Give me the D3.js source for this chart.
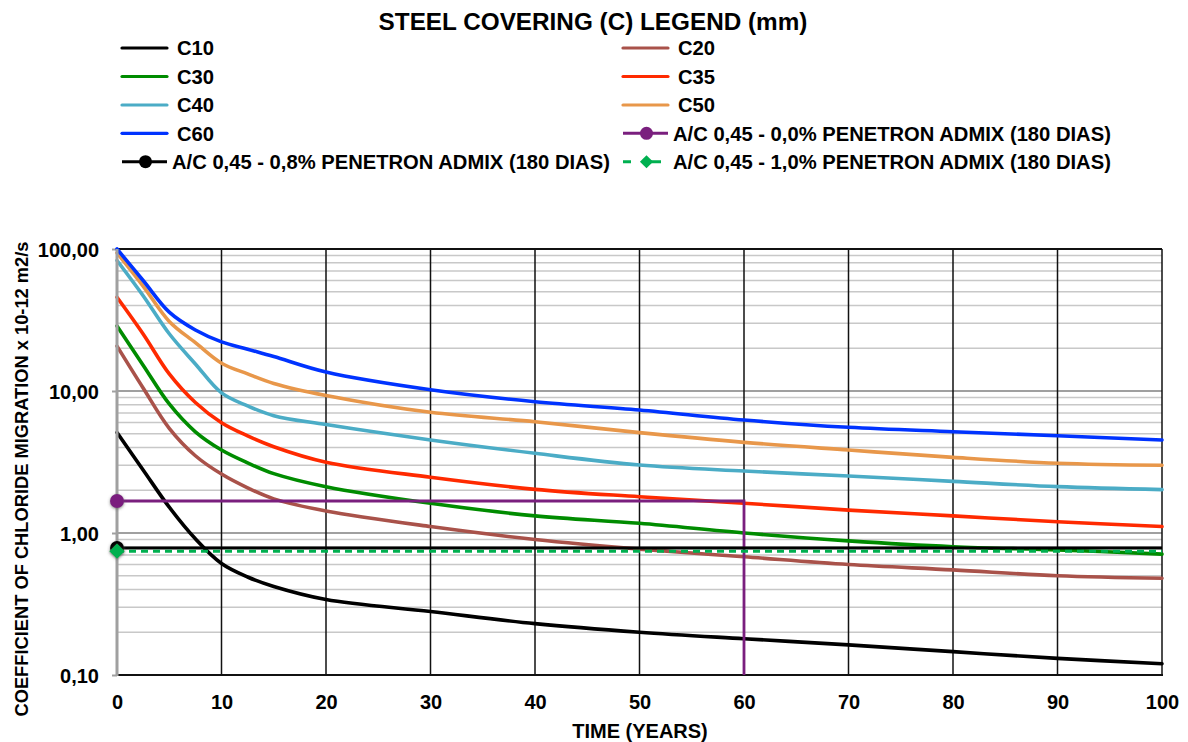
<!DOCTYPE html>
<html><head><meta charset="utf-8">
<script src="https://cdn.jsdelivr.net/npm/d3@7"></script>
<style>
body{margin:0;background:#fff}
svg{display:block}
text{font-family:"Liberation Sans",Arial,Helvetica,sans-serif;font-weight:bold;fill:#000}
</style>
</head><body>
<svg id="chart" width="1188" height="742"></svg>
<script>
// ---------- DATA ----------
const years = [0, 2.5, 5, 7.5, 10, 12.5, 15, 20, 30, 40, 50, 60, 70, 80, 90, 100];
const c10 = [5.1, 2.78, 1.52, 0.91, 0.61, 0.49, 0.42, 0.34, 0.28, 0.23, 0.20, 0.18, 0.163, 0.146, 0.131, 0.12];
const c20 = [20.7, 10.5, 5.46, 3.5, 2.6, 2.08, 1.74, 1.43, 1.11, 0.90, 0.77, 0.68, 0.60, 0.55, 0.50, 0.48];
const c30 = [28.7, 15.2, 8.1, 5.16, 3.84, 3.12, 2.62, 2.12, 1.62, 1.32, 1.17, 1.0, 0.88, 0.80, 0.76, 0.71];
const c35 = [45.7, 25.2, 13.2, 8.3, 5.98, 4.83, 4.05, 3.15, 2.47, 2.03, 1.80, 1.62, 1.45, 1.32, 1.20, 1.11];
const c40 = [83, 46.9, 25.3, 15.5, 9.7, 7.85, 6.7, 5.8, 4.52, 3.64, 3.01, 2.73, 2.52, 2.31, 2.12, 2.02];
const c50 = [94, 54.8, 30.9, 21.9, 15.7, 13.2, 11.3, 9.3, 7.08, 6.08, 5.09, 4.35, 3.84, 3.41, 3.10, 3.0];
const c60 = [100, 60, 35.9, 26.9, 22.2, 19.7, 17.5, 13.6, 10.2, 8.4, 7.35, 6.25, 5.55, 5.17, 4.84, 4.52];

const admix00Years = [0, 60, 60];
const admix00Values = [1.68, 1.68, 0.1];
const admix08Years = [0, 100];
const admix08Values = [0.785, 0.785];
const admix10Years = [0, 100];
const admix10Values = [0.745, 0.745];

const coverNames = ["C10", "C20", "C30", "C35", "C40", "C50", "C60"];
const admixNames = [
  "A/C 0,45 - 0,0% PENETRON ADMIX (180 DIAS)",
  "A/C 0,45 - 0,8% PENETRON ADMIX (180 DIAS)",
  "A/C 0,45 - 1,0% PENETRON ADMIX (180 DIAS)"
];
const xTickValues = [0, 10, 20, 30, 40, 50, 60, 70, 80, 90, 100];
const yTickValues = [0.1, 1, 10, 100];
const yTickLabels = ["0,10", "1,00", "10,00", "100,00"];

const titleText = "STEEL COVERING (C) LEGEND (mm)";
const xTitle = "TIME (YEARS)";
const yTitle = "COEFFICIENT OF CHLORIDE MIGRATION  x 10-12 m2/s";

// ---------- STYLE ----------
const coverColors = ["#000000", "#A9524A", "#008C00", "#FF2A00", "#4BACC6", "#E8974A", "#0033FF"];
const admixColors = ["#7A1F7E", "#000000", "#00B050"];

const L = 117, R = 1162, T = 249, B = 675;
const svg = d3.select("#chart");

const x = d3.scaleLinear().domain([0, 100]).range([L, R]);
const y = d3.scaleLog().domain([0.1, 100]).range([B, T]);

const defs = svg.append("defs");
const f = defs.append("filter").attr("id", "sh").attr("x", "-50%").attr("y", "-50%").attr("width", "200%").attr("height", "200%");
f.append("feDropShadow").attr("dx", 0).attr("dy", 1).attr("stdDeviation", 1.6).attr("flood-color", "#555").attr("flood-opacity", 0.7);

// minor gridlines
const minor = [];
[0.1, 1, 10].forEach(d => { for (let k = 2; k <= 9; k++) minor.push(d * k); });
svg.append("g").selectAll("line").data(minor).join("line")
  .attr("x1", L).attr("x2", R).attr("y1", d => y(d)).attr("y2", d => y(d))
  .attr("stroke", "#C8C8C8").attr("stroke-width", 1.5);
// major gridlines
svg.append("g").selectAll("line").data([1, 10]).join("line")
  .attr("x1", L).attr("x2", R).attr("y1", d => y(d)).attr("y2", d => y(d))
  .attr("stroke", "#A0A0A0").attr("stroke-width", 2);
// vertical gridlines
svg.append("g").selectAll("line").data(xTickValues.slice(1)).join("line")
  .attr("x1", d => x(d)).attr("x2", d => x(d)).attr("y1", T).attr("y2", B)
  .attr("stroke", "#111").attr("stroke-width", 1.5);
// border top / bottom
svg.append("line").attr("x1", L).attr("x2", R).attr("y1", T).attr("y2", T).attr("stroke", "#111").attr("stroke-width", 2);
svg.append("line").attr("x1", L).attr("x2", R + 1).attr("y1", B).attr("y2", B).attr("stroke", "#111").attr("stroke-width", 2);

const fontCss = "'Liberation Sans',Arial,sans-serif";
// y axis with ticks
const yAxis = d3.axisLeft(y).tickValues(yTickValues).tickSize(5)
  .tickFormat((d, i) => yTickLabels[i]);
const ya = svg.append("g").attr("transform", `translate(${L},0)`).call(yAxis);
ya.select(".domain").remove();
ya.selectAll(".tick line").attr("stroke", "#A0A0A0").attr("stroke-width", 2);
ya.selectAll(".tick text").attr("x", -18).attr("dy", "0.36em")
  .style("font-size", "20px").style("font-family", fontCss).style("font-weight", "bold").attr("fill", "#000");

// x axis labels
const xAxis = d3.axisBottom(x).tickValues(xTickValues).tickSize(0).tickFormat(d3.format("d"));
const xa = svg.append("g").attr("transform", `translate(0,${B})`).call(xAxis);
xa.select(".domain").remove();
xa.selectAll(".tick text").attr("y", 34).attr("dy", 0)
  .style("font-size", "20px").style("font-family", fontCss).style("font-weight", "bold").attr("fill", "#000");

// curves
const coverSeries = [c10, c20, c30, c35, c40, c50, c60];
const line = d3.line().x(d => x(d[0])).y(d => y(d[1])).curve(d3.curveCatmullRom.alpha(0.5));
svg.append("g").selectAll("path").data(coverSeries).join("path")
  .attr("d", vals => line(years.map((yr, i) => [yr, vals[i]])))
  .attr("fill", "none").attr("stroke", (d, i) => coverColors[i])
  .attr("stroke-width", 3.6).attr("stroke-linejoin", "round").attr("stroke-linecap", "round");

// y axis line (gray)
svg.append("line").attr("x1", L).attr("x2", L).attr("y1", T).attr("y2", B + 1)
  .attr("stroke", "#A0A0A0").attr("stroke-width", 3);

// admix reference lines
const straight = d3.line().x(d => x(d[0])).y(d => y(d[1]));
svg.append("path").attr("d", straight(admix00Years.map((a, i) => [a, admix00Values[i]])))
  .attr("fill", "none").attr("stroke", admixColors[0]).attr("stroke-width", 2.8);
svg.append("path").attr("d", straight(admix08Years.map((a, i) => [a, admix08Values[i]])))
  .attr("fill", "none").attr("stroke", admixColors[1]).attr("stroke-width", 3);
svg.append("path").attr("d", straight(admix10Years.map((a, i) => [a, admix10Values[i]])))
  .attr("fill", "none").attr("stroke", admixColors[2]).attr("stroke-width", 3).attr("stroke-dasharray", "7,5");

// markers at first points
svg.append("circle").attr("cx", x(admix00Years[0])).attr("cy", y(admix00Values[0])).attr("r", 7)
  .attr("fill", admixColors[0]).attr("filter", "url(#sh)");
svg.append("circle").attr("cx", x(admix08Years[0])).attr("cy", y(admix08Values[0])).attr("r", 7)
  .attr("fill", admixColors[1]).attr("filter", "url(#sh)");
svg.append("path").attr("d", d3.symbol(d3.symbolDiamond2, 150)())
  .attr("transform", `translate(${x(admix10Years[0])},${y(admix10Values[0])})`)
  .attr("fill", admixColors[2]).attr("filter", "url(#sh)");

// titles
svg.append("text").attr("x", 593).attr("y", 30).attr("text-anchor", "middle").style("font-size", "24.3px").text(titleText);
svg.append("text").attr("x", 640).attr("y", 738).attr("text-anchor", "middle").style("font-size", "20px").text(xTitle);
svg.append("text").attr("transform", "translate(28,479) rotate(-90)").attr("text-anchor", "middle").style("font-size", "18.3px").text(yTitle);

// legend
const rowY = [48, 76.5, 105, 133.3, 161.7];
const colLine = [122, 623];
const lg = svg.append("g");
const legendItems = [
  {name: coverNames[0], color: coverColors[0], col: 0, row: 0},
  {name: coverNames[1], color: coverColors[1], col: 1, row: 0},
  {name: coverNames[2], color: coverColors[2], col: 0, row: 1},
  {name: coverNames[3], color: coverColors[3], col: 1, row: 1},
  {name: coverNames[4], color: coverColors[4], col: 0, row: 2},
  {name: coverNames[5], color: coverColors[5], col: 1, row: 2},
  {name: coverNames[6], color: coverColors[6], col: 0, row: 3},
  {name: admixNames[0], color: admixColors[0], col: 1, row: 3, marker: "circle"},
  {name: admixNames[1], color: admixColors[1], col: 0, row: 4, marker: "circle"},
  {name: admixNames[2], color: admixColors[2], col: 1, row: 4, marker: "diamond"}
];
legendItems.forEach(it => {
  const x0 = colLine[it.col], yy = rowY[it.row];
  if (!it.marker) {
    lg.append("line").attr("x1", x0).attr("x2", x0 + 45).attr("y1", yy).attr("y2", yy)
      .attr("stroke", it.color).attr("stroke-width", 3.2).attr("stroke-linecap", "round");
    lg.append("text").attr("x", x0 + 55).attr("y", yy).attr("dy", "0.36em").style("font-size", "20.2px").text(it.name);
  } else {
    const dashed = it.marker === "diamond";
    lg.append("line").attr("x1", x0).attr("x2", x0 + (dashed ? 38 : 45)).attr("y1", yy).attr("y2", yy)
      .attr("stroke", it.color).attr("stroke-width", 3).attr("stroke-dasharray", dashed ? "8,19,11" : null);
    if (it.marker === "circle") {
      lg.append("circle").attr("cx", x0 + 23.5).attr("cy", yy).attr("r", 6.5).attr("fill", it.color);
    } else {
      lg.append("path").attr("d", d3.symbol(d3.symbolDiamond2, 110)())
        .attr("transform", `translate(${x0 + 23.5},${yy})`).attr("fill", it.color);
    }
    lg.append("text").attr("x", x0 + 50).attr("y", yy).attr("dy", "0.36em").style("font-size", "20.2px").text(it.name);
  }
});
</script>
</body></html>
